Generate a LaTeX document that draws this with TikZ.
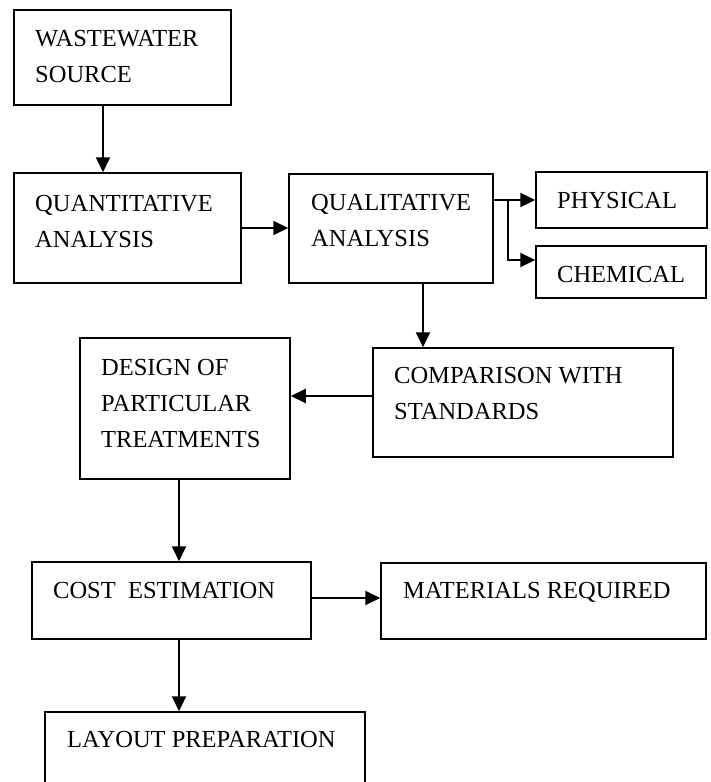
\documentclass[tikz,border=0pt]{standalone}
\usepackage{fontspec}
\setmainfont{Liberation Serif}
\usepackage{tikz}
\usetikzlibrary{arrows.meta,positioning,calc}

\begin{document}
\begin{tikzpicture}[x=1pt, y=-1pt,
    box/.style={draw, line width=1.5pt, minimum width=#1, inner sep=0pt},
    boxtext/.style={font=\fontsize{24.5}{36}\selectfont, align=left, anchor=base west, inner sep=0pt},
    flow/.style={-{Triangle[length=15pt, width=14pt]}, line width=2pt}
]
\useasboundingbox (0,0) rectangle (710,782);

%% Top row (text nodes sit on the baseline of their last line)
\node[box=217pt, minimum height=95pt] (ww) at (122.5, 57.5) {};
\node[boxtext] (wwtxt) at (35, 82) {WASTEWATER\\SOURCE};

\node[box=227pt, minimum height=110pt] (quant) at (127.5, 228) {};
\node[boxtext] (quanttxt) at (35, 247) {QUANTITATIVE\\ANALYSIS};

\node[box=204pt, minimum height=109pt] (qual) at (391, 228.5) {};
\node[boxtext] (qualtxt) at (311, 246) {QUALITATIVE\\ANALYSIS};

\node[box=171pt, minimum height=56pt] (phys) at (621.5, 200) {};
\node[boxtext] (physt) at (557, 208) {PHYSICAL};

\node[box=170pt, minimum height=52pt] (chem) at (621, 272) {};
\node[boxtext] (chemt) at (557, 282) {CHEMICAL};

%% Middle row
\node[box=300pt, minimum height=109pt] (comp) at (523, 402.5) {};
\node[boxtext] (comptxt) at (394, 419) {COMPARISON WITH\\STANDARDS};

\node[box=210pt, minimum height=141pt] (design) at (185, 408.5) {};
\node[boxtext] (designtxt) at (101, 447) {DESIGN OF\\PARTICULAR\\TREATMENTS};

%% Bottom rows
\node[box=279pt, minimum height=77pt] (cost) at (171.5, 600.5) {};
\node[boxtext] (costtxt) at (53, 598) {COST\ \ ESTIMATION};

\node[box=325pt, minimum height=76pt] (mat) at (543.5, 601) {};
\node[boxtext] (mattxt) at (403, 598) {MATERIALS REQUIRED};

\node[box=320pt, minimum height=100pt] (layout) at (205, 762) {};
\node[boxtext] (layouttxt) at (67, 747) {LAYOUT PREPARATION};

%% Arrows
\draw[flow] ([xshift=-19.5pt]ww.south) -- ([xshift=-19.5pt]ww.south |- quant.north);
\draw[flow] (quant.east) -- (quant.east -| qual.west);
\draw[flow] (qual.east |- phys.west) -- (phys.west);
\coordinate (split) at ([xshift=14pt]qual.east |- phys.west);
\draw[flow] (split) |- ([yshift=12pt]chem.west);
\draw[flow] ([xshift=32pt]qual.south) -- ([xshift=32pt]qual.south |- comp.north);
\draw[flow] ([yshift=6.5pt]comp.west) -- ([yshift=6.5pt]comp.west -| design.east);
\draw[flow] ([xshift=-6pt]design.south) -- ([xshift=-6pt]design.south |- cost.north);
\draw[flow] ([yshift=2.5pt]cost.east) -- ([yshift=2.5pt]cost.east -| mat.west);
\draw[flow] ([xshift=7.5pt]cost.south) -- ([xshift=7.5pt]cost.south |- layout.north);

\end{tikzpicture}
\end{document}
